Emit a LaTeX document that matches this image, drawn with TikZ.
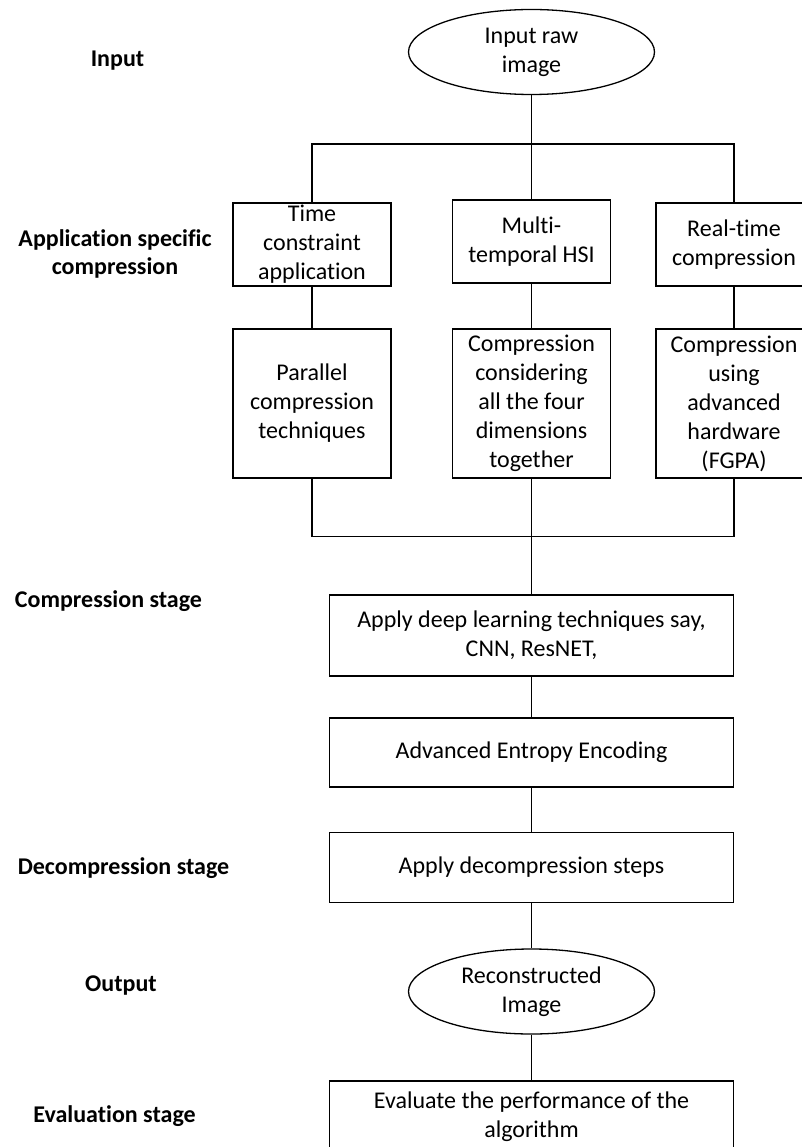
\documentclass[tikz,border=0pt]{standalone}
\usepackage{fontspec}
\setmainfont{Carlito}[Ligatures=NoCommon]
\usetikzlibrary{shapes.geometric}
\tikzset{
  txt/.style={font=\fontsize{24}{29}\selectfont, align=center, inner sep=0pt},
  lbl/.style={font=\fontsize{24}{28}\selectfont\bfseries, align=center, inner sep=0pt},
  box/.style={txt, draw, line width=1.3pt},
  oval/.style={txt, draw, ellipse, line width=1.3pt, minimum width=246pt, minimum height=85pt},
  link/.style={line width=1.3pt},
}
\begin{document}
\begin{tikzpicture}[x=1pt,y=-1pt]
\useasboundingbox (0,0) rectangle (802,1147);
\clip (0,0) rectangle (802,1147);
\fill[white] (0,0) rectangle (802,1147);

% labels
\node[lbl] (lin) at (117.5,61) {Input};
\node[lbl] (lapp) at (115,254) {Application specific\\compression};
\node[lbl] (lcomp) at (108.5,601) {Compression stage};
\node[lbl] (ldec) at (123.5,868) {Decompression stage};
\node[lbl] (lout) at (121,986) {Output};
\node[lbl] (leval) at (114.5,1116) {Evaluation stage};

% nodes
\node[oval] (in) at (531.5,52) {Input raw\\image};
\node[box, minimum width=158pt, minimum height=83pt] (t1) at (312,244.5) {Time\\constraint\\application};
\node[box, minimum width=158pt, minimum height=83pt] (t2) at (531.5,241.5) {Multi-\\temporal HSI};
\node[box, minimum width=156pt, minimum height=83pt] (t3) at (734,244.5) {Real-time\\compression};
\node[box, minimum width=158pt, minimum height=149pt] (b1) at (312,403.5) {Parallel\\compression\\techniques};
\node[box, minimum width=158pt, minimum height=149pt] (b2) at (531.5,403.5) {Compression\\considering\\all the four\\dimensions\\together};
\node[box, minimum width=156pt, minimum height=149pt] (b3) at (734,403.5) {Compression\\using\\advanced\\hardware\\(FGPA)};
\node[box, minimum width=404pt, minimum height=81pt] (dl) at (531.5,635.5) {Apply deep learning techniques say,\\CNN, ResNET,};
\node[box, minimum width=404pt, minimum height=69pt] (ent) at (531.5,752.5) {Advanced Entropy Encoding};
\node[box, minimum width=404pt, minimum height=70pt] (dec) at (531.5,867.5) {Apply decompression steps};
\node[oval] (out) at (531.5,991.5) {Reconstructed\\Image};
\node[box, minimum width=404pt, minimum height=72pt] (ev) at (531.5,1117) {Evaluate the performance of the\\algorithm};

% connectors
\coordinate (jt) at (531.5,144);
\coordinate (jb) at (531.5,536.5);
\draw[link] (in) -- (t2);
\draw[link] (t1.north) |- (jt) -| (t3.north);
\draw[link] (t1) -- (b1);
\draw[link] (t2) -- (b2);
\draw[link] (t3) -- (b3);
\draw[link] (b1.south) |- (jb) -| (b3.south);
\draw[link] (b2) -- (dl);
\draw[link] (dl) -- (ent);
\draw[link] (ent) -- (dec);
\draw[link] (dec) -- (out);
\draw[link] (out) -- (ev);
\end{tikzpicture}
\end{document}
